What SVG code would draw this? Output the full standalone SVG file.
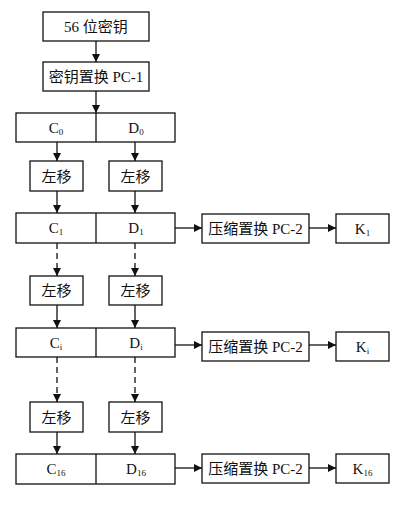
<svg xmlns="http://www.w3.org/2000/svg" width="418" height="507" viewBox="0 0 418 507">
<defs>
<marker id="ah" viewBox="0 0 10 10" refX="10" refY="5" markerWidth="9" markerHeight="8" markerUnits="userSpaceOnUse" orient="auto">
<path d="M0,0 L10,5 L0,10 z" fill="#111"/>
</marker>
<style>
.box{fill:#fff;stroke:#111;stroke-width:1.3}
.t{font-family:"Liberation Serif","Noto Sans CJK SC",serif;font-size:15px;fill:#111;text-anchor:middle}
.s{font-size:9px}
.c{stroke:#111;stroke-width:1.3;fill:none;marker-end:url(#ah)}
.d{stroke-dasharray:6,4}
</style>
</defs>
<rect width="418" height="507" fill="#fff"/>
<g id="key56"><rect class="box" x="43" y="12" width="106" height="29"/><text class="t" x="96" y="32">56 位密钥</text></g>
<g id="pc1"><rect class="box" x="43" y="62" width="106" height="29"/><text class="t" x="96" y="82">密钥置换 PC-1</text></g>
<g id="cd0"><rect class="box" x="16" y="113" width="159" height="29"/><line x1="96" y1="113" x2="96" y2="142" stroke="#111" stroke-width="1.3"/><text class="t" x="56" y="133">C<tspan class="s" dy="2">0</tspan></text><text class="t" x="136" y="133">D<tspan class="s" dy="2">0</tspan></text></g>
<g id="ls1c"><rect class="box" x="30" y="161" width="53" height="30"/><text class="t" x="56.5" y="182">左移</text></g>
<g id="ls1d"><rect class="box" x="109" y="161" width="53" height="30"/><text class="t" x="135.5" y="182">左移</text></g>
<g id="cd1"><rect class="box" x="16" y="213" width="159" height="30"/><line x1="96" y1="213" x2="96" y2="243" stroke="#111" stroke-width="1.3"/><text class="t" x="56" y="233">C<tspan class="s" dy="2">1</tspan></text><text class="t" x="136" y="233">D<tspan class="s" dy="2">1</tspan></text></g>
<g id="pc2a"><rect class="box" x="202" y="214" width="107" height="29"/><text class="t" x="255.5" y="234">压缩置换 PC-2</text></g>
<g id="k1"><rect class="box" x="336" y="214" width="53" height="29"/><text class="t" x="362.5" y="234">K<tspan class="s" dy="2">1</tspan></text></g>
<g id="lsic"><rect class="box" x="30" y="276" width="53" height="29"/><text class="t" x="56.5" y="296">左移</text></g>
<g id="lsid"><rect class="box" x="109" y="276" width="53" height="29"/><text class="t" x="135.5" y="296">左移</text></g>
<g id="cdi"><rect class="box" x="16" y="328" width="159" height="29"/><line x1="96" y1="328" x2="96" y2="357" stroke="#111" stroke-width="1.3"/><text class="t" x="56" y="348">C<tspan class="s" dy="2">i</tspan></text><text class="t" x="136" y="348">D<tspan class="s" dy="2">i</tspan></text></g>
<g id="pc2b"><rect class="box" x="202" y="332" width="107" height="29"/><text class="t" x="255.5" y="352">压缩置换 PC-2</text></g>
<g id="ki"><rect class="box" x="336" y="332" width="53" height="29"/><text class="t" x="362.5" y="352">K<tspan class="s" dy="2">i</tspan></text></g>
<g id="ls16c"><rect class="box" x="30" y="402" width="53" height="30"/><text class="t" x="56.5" y="423">左移</text></g>
<g id="ls16d"><rect class="box" x="109" y="402" width="53" height="30"/><text class="t" x="135.5" y="423">左移</text></g>
<g id="cd16"><rect class="box" x="16" y="454" width="159" height="30"/><line x1="96" y1="454" x2="96" y2="484" stroke="#111" stroke-width="1.3"/><text class="t" x="56" y="474">C<tspan class="s" dy="2">16</tspan></text><text class="t" x="136" y="474">D<tspan class="s" dy="2">16</tspan></text></g>
<g id="pc2c"><rect class="box" x="202" y="454" width="107" height="29"/><text class="t" x="255.5" y="474">压缩置换 PC-2</text></g>
<g id="k16"><rect class="box" x="336" y="454" width="53" height="29"/><text class="t" x="362.5" y="474">K<tspan class="s" dy="2">16</tspan></text></g>
<g id="connectors">
<line class="c" x1="96" y1="41" x2="96" y2="62"/>
<line class="c" x1="96" y1="91" x2="96" y2="113"/>
<line class="c" x1="57" y1="142" x2="57" y2="161"/>
<line class="c" x1="135" y1="142" x2="135" y2="161"/>
<line class="c" x1="57" y1="191" x2="57" y2="213"/>
<line class="c" x1="135" y1="191" x2="135" y2="213"/>
<line class="c" x1="175" y1="228" x2="202" y2="228"/>
<line class="c" x1="309" y1="228" x2="336" y2="228"/>
<line class="c d" x1="57" y1="243" x2="57" y2="276"/>
<line class="c d" x1="135" y1="243" x2="135" y2="276"/>
<line class="c" x1="57" y1="305" x2="57" y2="328"/>
<line class="c" x1="135" y1="305" x2="135" y2="328"/>
<line class="c" x1="175" y1="345" x2="202" y2="345"/>
<line class="c" x1="309" y1="345" x2="336" y2="345"/>
<line class="c d" x1="57" y1="357" x2="57" y2="402"/>
<line class="c d" x1="135" y1="357" x2="135" y2="402"/>
<line class="c" x1="57" y1="432" x2="57" y2="454"/>
<line class="c" x1="135" y1="432" x2="135" y2="454"/>
<line class="c" x1="175" y1="468" x2="202" y2="468"/>
<line class="c" x1="309" y1="468" x2="336" y2="468"/>
</g>
</svg>
